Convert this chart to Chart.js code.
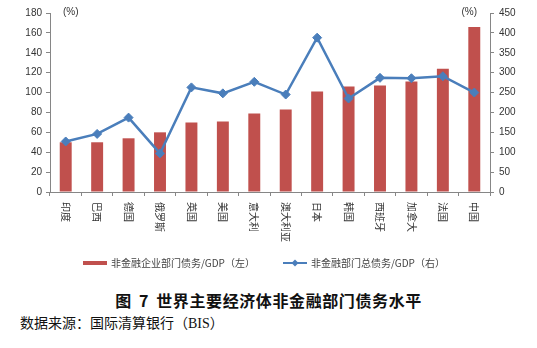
<!DOCTYPE html>
<html>
<head>
<meta charset="utf-8">
<script src="https://cdn.jsdelivr.net/npm/chart.js@4.4.1/dist/chart.umd.min.js"></script>
<style>
  html, body { margin: 0; padding: 0; background: #fff; }
  #wrap { position: relative; width: 537px; height: 348px; overflow: hidden; }
  #box { position: absolute; left: 0; top: 0; width: 537px; height: 280px; }
  #title { position: absolute; left: 0; width: 537px; top: 288px; text-align: center;
    font: 700 16px "Noto Sans CJK SC", sans-serif; color: #111; letter-spacing: 0.6px; word-spacing: 3px; }
  #source { position: absolute; left: 20px; top: 312px;
    font: 14px "Liberation Serif", "Noto Sans CJK SC", serif; color: #111; }
</style>
</head>
<body>
<div id="wrap">
  <div id="box"><canvas id="c" width="537" height="280"></canvas></div>
  <div id="title">图 7 世界主要经济体非金融部门债务水平</div>
  <div id="source">数据来源：国际清算银行（BIS）</div>
</div>
<script>
// Economies on the category axis
const categories = ['印度', '巴西', '德国', '俄罗斯', '英国', '美国', '意大利', '澳大利亚', '日本', '韩国', '西班牙', '加拿大', '法国', '中国'];
// Non-financial corporate debt / GDP (%), left axis
const corporateDebt = [50, 50, 54, 60, 70, 71, 79, 83, 101, 106, 107, 111, 124, 166];
// Total non-financial sector debt / GDP (%), right axis
const totalDebt = [127, 146, 187, 97, 263, 248, 277, 245, 388, 235, 287, 286, 291, 250];
const seriesNames = ['非金融企业部门债务/GDP（左）', '非金融部门总债务/GDP（右）'];
const leftTicks = { min: 0, max: 180, step: 20 };
const rightTicks = { min: 0, max: 450, step: 50 };
const unitLabel = '(%)';

const RED = '#C0504D';
const BLUE = '#4A7EBB';
const AXIS = '#868686';
const TEXT = '#333333';
const tickFont = { family: '"Liberation Sans", Arial, sans-serif', size: 10 };

// Vertical category labels, rotated clockwise so they read downwards
const categoryLabels = {
  id: 'categoryLabels',
  afterDraw(chart) {
    const ctx = chart.ctx;
    const x = chart.scales.x;
    ctx.save();
    ctx.fillStyle = TEXT;
    ctx.font = '10px "Noto Sans CJK SC", sans-serif';
    ctx.textAlign = 'left';
    ctx.textBaseline = 'middle';
    categories.forEach((c, i) => {
      ctx.save();
      ctx.translate(x.getPixelForValue(i), x.top + 10);
      ctx.rotate(Math.PI / 2);
      ctx.fillText(c, 0, 0);
      ctx.restore();
    });
    ctx.restore();
  }
};

// Unit captions above both value axes
const unitCaptions = {
  id: 'unitCaptions',
  afterDraw(chart) {
    const ctx = chart.ctx;
    const a = chart.chartArea;
    ctx.save();
    ctx.fillStyle = TEXT;
    ctx.font = '10px "Liberation Sans", Arial, sans-serif';
    ctx.textBaseline = 'middle';
    ctx.textAlign = 'left';
    ctx.fillText(unitLabel, a.left + 13, 12);
    ctx.textAlign = 'right';
    ctx.fillText(unitLabel, a.right - 13, 12);
    ctx.restore();
  }
};

// Legend row under the axis labels
const legendRow = {
  id: 'legendRow',
  afterDraw(chart) {
    const ctx = chart.ctx;
    const y = 263;
    ctx.save();
    ctx.font = '10px "Noto Sans CJK SC", sans-serif';
    ctx.textBaseline = 'middle';
    ctx.textAlign = 'left';
    // bar series
    ctx.fillStyle = RED;
    ctx.fillRect(83, y - 2, 24, 4);
    ctx.fillStyle = '#444';
    ctx.fillText(seriesNames[0], 111, y);
    // line series
    ctx.strokeStyle = BLUE;
    ctx.lineWidth = 2;
    ctx.beginPath();
    ctx.moveTo(283, y);
    ctx.lineTo(307, y);
    ctx.stroke();
    ctx.fillStyle = BLUE;
    ctx.beginPath();
    ctx.moveTo(295, y - 3.5);
    ctx.lineTo(298.5, y);
    ctx.lineTo(295, y + 3.5);
    ctx.lineTo(291.5, y);
    ctx.closePath();
    ctx.fill();
    ctx.fillStyle = '#444';
    ctx.fillText(seriesNames[1], 311, y);
    ctx.restore();
  }
};

new Chart(document.getElementById('c'), {
  data: {
    labels: categories,
    datasets: [
      {
        type: 'line',
        label: seriesNames[1],
        data: totalDebt,
        yAxisID: 'y1',
        borderColor: BLUE,
        backgroundColor: BLUE,
        borderWidth: 2.5,
        pointStyle: 'rectRot',
        pointRadius: 4.5,
        pointBorderWidth: 1,
        tension: 0,
        order: 0
      },
      {
        type: 'bar',
        label: seriesNames[0],
        data: corporateDebt,
        yAxisID: 'y',
        backgroundColor: RED,
        barPercentage: 0.38,
        categoryPercentage: 1,
        order: 1
      }
    ]
  },
  options: {
    responsive: false,
    animation: false,
    layout: { padding: { top: 13, left: 0, right: 0, bottom: 0 } },
    plugins: { legend: { display: false }, tooltip: { enabled: false } },
    scales: {
      x: {
        offset: true,
        grid: { display: true, drawOnChartArea: false, drawTicks: true, tickLength: 4, color: AXIS, offset: true },
        border: { display: true, color: AXIS, width: 1 },
        ticks: { display: false },
        afterFit(s) { s.height = 88; }
      },
      y: {
        position: 'left',
        min: leftTicks.min, max: leftTicks.max,
        ticks: { stepSize: leftTicks.step, color: TEXT, font: tickFont, padding: 4 },
        grid: { drawOnChartArea: false, drawTicks: true, tickLength: 4, color: AXIS },
        border: { display: true, color: AXIS, width: 1 },
        afterFit(s) { s.width = 50; }
      },
      y1: {
        position: 'right',
        min: rightTicks.min, max: rightTicks.max,
        ticks: { stepSize: rightTicks.step, color: TEXT, font: tickFont, padding: 5 },
        grid: { drawOnChartArea: false, drawTicks: true, tickLength: 4, color: AXIS },
        border: { display: true, color: AXIS, width: 1 },
        afterFit(s) { s.width = 47; }
      }
    }
  },
  plugins: [categoryLabels, unitCaptions, legendRow]
});
</script>
</body>
</html>
